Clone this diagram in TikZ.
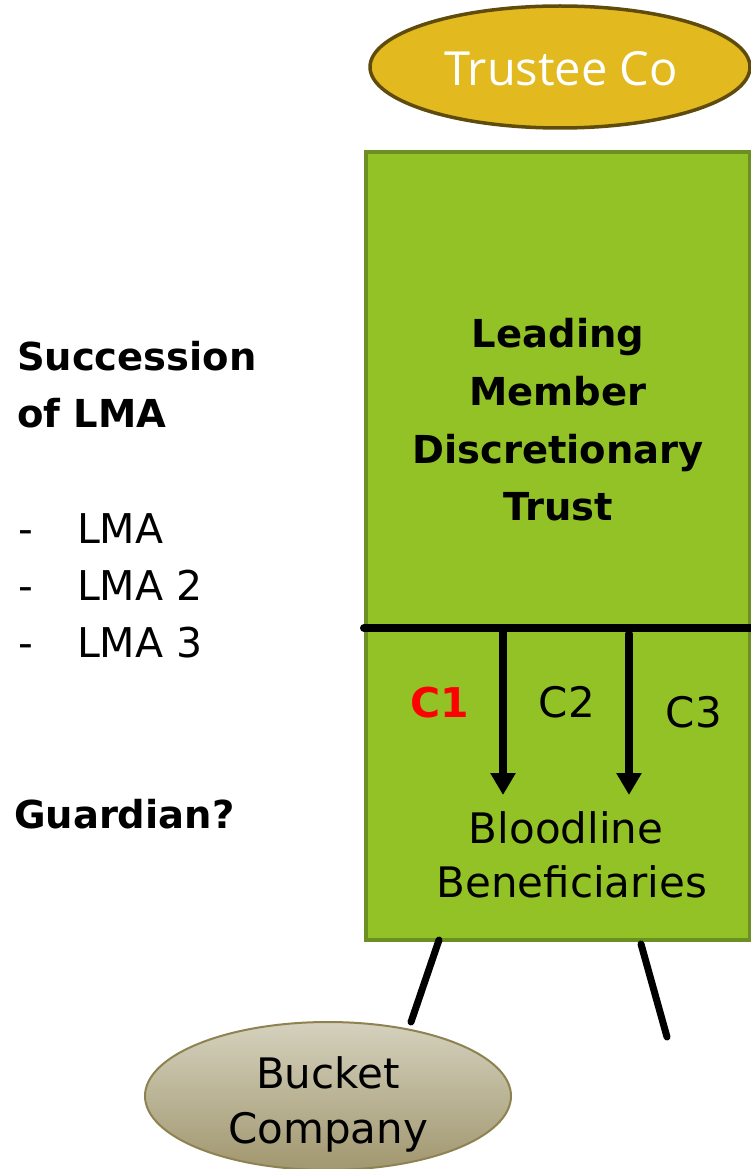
\documentclass[tikz,border=0pt]{standalone}
\usepackage{fontspec}
\setmainfont{DejaVu Sans}
\newfontfamily\titlefont{Open Sans}
\usetikzlibrary{arrows.meta,shapes.geometric}
\newcommand\fsz[1]{\fontsize{#1}{#1}\selectfont}
\definecolor{goldfill}{HTML}{E3B920}
\definecolor{goldline}{HTML}{5F4C0C}
\definecolor{leaf}{HTML}{92C225}
\definecolor{leafline}{HTML}{6B8F22}
\definecolor{khakitop}{HTML}{D4D1BD}
\definecolor{khakibot}{HTML}{A1976F}
\definecolor{khakiline}{HTML}{8E8251}
\definecolor{cred}{HTML}{FF0000}
\tikzset{
  every node/.style={inner sep=0pt, outer sep=0pt},
  lbl/.style={anchor=base, font=\fsz{42}},
  lblb/.style={anchor=base, font=\bfseries\fsz{38.5}},
  sidel/.style={anchor=base west, font=\fsz{41}},
  sideb/.style={anchor=base west, font=\bfseries\fsz{38.5}},
  flow/.style={line width=8pt, -{Triangle[width=24pt,length=22pt]}},
  leg/.style={line width=7pt, line cap=round},
}
\begin{document}
\begin{tikzpicture}[x=1pt,y=-1pt]
\useasboundingbox (0,0) rectangle (751,1169);

% trust box
\node[draw=leafline, fill=leaf, line width=4pt, minimum width=384pt, minimum height=788pt] (box) at (558,546) {};

% trustee company
\node[ellipse, draw=goldline, fill=goldfill, line width=3.5pt, minimum width=380pt, minimum height=122pt] (trustee) at (560,67) {};
\node[anchor=base, text=white, font=\titlefont\fsz{47}] (trusteeT) at (561,86) {Trustee Co};

% trust name
\node[lblb] (t1) at (558,347) {Leading};
\node[lblb] (t2) at (558,405) {Member};
\node[lblb] (t3) at (558,463) {Discretionary};
\node[lblb] (t4) at (558,520) {Trust};

% distribution bar and arrows
\coordinate (barL) at (364,628);
\coordinate (barR) at (751,628);
\draw[line width=8pt, line cap=round] (barL) -- (barR);
\coordinate (a1s) at (503,628);
\coordinate (a1e) at (503,795);
\coordinate (a2s) at (629,634);
\coordinate (a2e) at (629,795);
\draw[flow] (a1s) -- (a1e);
\draw[flow, line cap=round] (a2s) -- (a2e);

\node[anchor=base, text=cred, font=\bfseries\fsz{41}] (c1) at (440,717) {C1};
\node[lbl] (c2) at (567,717) {C2};
\node[lbl] (c3) at (694,727) {C3};

\node[lbl] (b1) at (566,843) {Bloodline};
\node[lbl] (b2) at (572,897) {Beneficiaries};

% bucket company
\node[ellipse, draw=khakiline, top color=khakitop, bottom color=khakibot, line width=2pt, minimum width=366pt, minimum height=148pt] (bucket) at (328,1096) {};
\node[lbl] (bk1) at (328,1088) {Bucket};
\node[lbl] (bk2) at (328,1143) {Company};

% legs under the box
\coordinate (l1a) at (439,940);
\coordinate (l2a) at (641,944);
\coordinate (l2b) at (667,1037);
\draw[leg] (l1a) -- (bucket.north -| 411,0);
\draw[leg] (l2a) -- (l2b);

% side notes
\node[sideb] (s1) at (17,370) {Succession};
\node[sideb] (s2) at (17,427) {of LMA};
\node[sidel] (d1) at (18,543) {-};
\node[sidel] (m1) at (77,543) {LMA};
\node[sidel] (d2) at (18,600) {-};
\node[sidel] (m2) at (77,600) {LMA 2};
\node[sidel] (d3) at (18,657) {-};
\node[sidel] (m3) at (77,657) {LMA 3};
\node[sideb] (g1) at (14,828) {Guardian?};
\end{tikzpicture}
\end{document}
